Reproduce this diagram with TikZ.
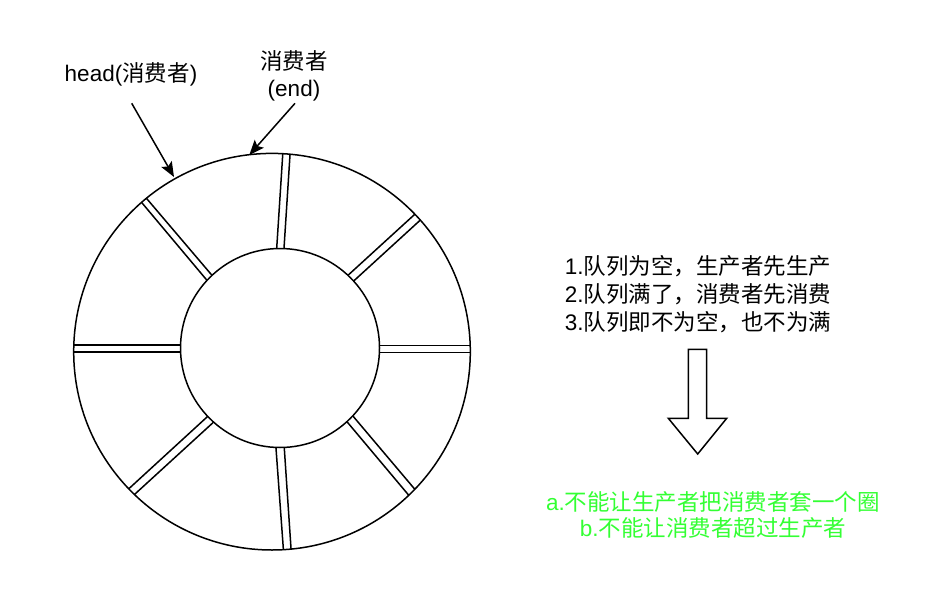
\documentclass[tikz,border=0pt]{standalone}
\usepackage{fontspec}
\setmainfont{Liberation Sans}
\newfontfamily\cjk{Noto Sans CJK SC}
\usetikzlibrary{arrows.meta}
\definecolor{brightgreen}{RGB}{51,255,51}
\begin{document}
\begin{tikzpicture}[x=1pt,y=-1pt,
  ringline/.style={line width=1.5pt},
  spokeline/.style={line width=1.5pt, shorten <=-12pt, shorten >=-12pt},
  lbl/.style={align=center, inner sep=0pt, font=\fontsize{22.5}{28}\selectfont},
  tightlbl/.style={align=center, inner sep=0pt, font=\fontsize{22.5}{26.8}\selectfont},
  ptr/.style={line width=1.5pt, -{Stealth[length=15pt,width=12pt,inset=3pt]}},
  blockarrow/.style={line width=1.5pt, fill=white}]
\useasboundingbox (0,0) rectangle (949,607);
% spokes, clipped to the outer circle
\begin{scope}
\clip (272,351.7) circle (198.3pt);
% top
\draw[spokeline] (282.7,155) -- (276.7,248.3);
\draw[spokeline] (290,155) -- (284,248.3);
% upper right
\draw[spokeline] (414,215) -- (348.3,275);
\draw[spokeline] (419.3,221) -- (354,280.7);
% right
\draw[spokeline] (379.3,345.7) -- (469.3,345.7);
\draw[spokeline] (379.3,352.3) -- (469.3,352.3);
% lower right
\draw[spokeline] (354,417.3) -- (414,488.3);
\draw[spokeline] (348.3,423.3) -- (407.7,494);
% bottom
\draw[spokeline] (276,448.3) -- (283.3,548.3);
\draw[spokeline] (284.3,448.3) -- (291,548.3);
% lower left
\draw[spokeline] (206.7,417.3) -- (129.3,488.3);
\draw[spokeline] (212.3,423.3) -- (135,494);
% left
\draw[spokeline] (74,345) -- (180.7,345);
\draw[spokeline] (74,352) -- (180.7,352);
% upper left
\draw[spokeline] (141,201.7) -- (206.7,280);
\draw[spokeline] (147.3,199.3) -- (212.3,275.7);
\end{scope}
% rings
\node[circle, draw, ringline, minimum size=396.6pt, inner sep=0pt] (outer) at (272,351.7) {};
\node[circle, draw, ringline, fill=white, minimum size=199pt, inner sep=0pt] (inner) at (280,348) {};
% labels
\node[lbl] (headlbl) at (131,74) {head({\cjk 消费者})};
\node[tightlbl] (endlbl) at (294,75.5) {{\cjk 消费者}\\(end)};
\coordinate (headfrom) at (131.7,103.3);
\coordinate (headto) at (174,177);
\coordinate (endfrom) at (295,103.3);
\coordinate (endto) at (249.3,155);
\draw[ptr] (headfrom) -- (headto);
\draw[ptr] (endfrom) -- (endto);
% rules text
\node[lbl] (rules) at (698,294.5) {1.{\cjk 队列为空，生产者先生产}\\2.{\cjk 队列满了，消费者先消费}\\3.{\cjk 队列即不为空，也不为满}};
% block arrow
\draw[blockarrow] (688.3,349.3) -- (706.7,349.3) -- (706.7,418.3) -- (726.7,418.3) -- (697.7,454) -- (668.3,418.3) -- (688.3,418.3) -- cycle;
% conclusions
\node[tightlbl, text=brightgreen] (concl) at (713,515) {a.{\cjk 不能让生产者把消费者套一个圈}\\b.{\cjk 不能让消费者超过生产者}};
\end{tikzpicture}
\end{document}
